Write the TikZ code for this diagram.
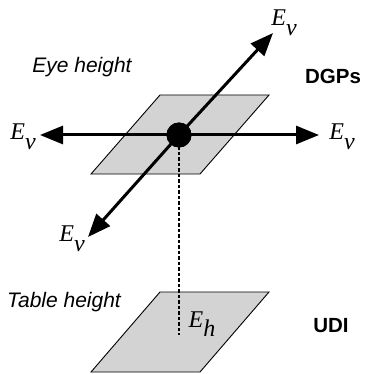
\documentclass[tikz,border=0pt]{standalone}
\usepackage{fontspec}
\setsansfont{Liberation Sans}
\newfontfamily\quantityfont{Liberation Serif}
\usetikzlibrary{arrows.meta, positioning}
\definecolor{planegray}{RGB}{211,211,211}

\newcommand{\quantity}[2]{\textit{#1\raisebox{-0.4em}{#2}}}

\tikzset{
  plane/.style={fill=planegray, draw=black, line width=0.9pt},
  flux/.style={line width=3pt, -{Triangle[length=23pt,width=18pt]}},
  drop/.style={line width=1.1pt, dash pattern=on 3.5pt off 2pt},
  evlabel/.style={font=\quantityfont\fontsize{24}{26}\selectfont, inner sep=0pt},
  heightlabel/.style={font=\sffamily\itshape\fontsize{21}{24}\selectfont, inner sep=0pt},
  metriclabel/.style={font=\sffamily\bfseries\fontsize{20.5}{24}\selectfont, inner sep=0pt},
}

\begin{document}
\begin{tikzpicture}[x=1pt, y=-1pt]
        \useasboundingbox (0,0) rectangle (365,374);
        % Planes
        \draw[plane] (160,95) -- (269,95) -- (200,174) -- (91,174) -- cycle;
        \draw[plane] (160,292) -- (269,292) -- (200,372) -- (91,372) -- cycle;
        % Sensor point and arrow tips
        \node[circle, fill=black, minimum size=25pt, inner sep=0pt] (eye) at (179,135) {};
        \coordinate (west) at (40,135);
        \coordinate (east) at (319,135);
        \coordinate (back) at (273,33);
        \coordinate (front) at (88,237);
        \coordinate (table) at (179,335);
        % Vertical drop to table
        \draw[drop] (eye.center) -- (table);
        % Vertical illuminance arrows
        \foreach \tip in {west,east,back,front}
          \draw[flux] (eye.center) -- (\tip);
        \node[circle, fill=black, minimum size=25pt, inner sep=0pt] at (eye) {};
        % Labels
        \node[evlabel] (ev back) at (284,23) {\quantity{E}{v}};
        \node[evlabel] (ev west) at (23,137) {\quantity{E}{v}};
        \node[evlabel] (ev east) at (342,137) {\quantity{E}{v}};
        \node[evlabel] (ev front) at (72,239) {\quantity{E}{v}};
        \node[evlabel] (eh) at (202,324) {\quantity{E}{h}};
        \node[heightlabel] (eye label) at (82,67) {Eye height};
        \node[heightlabel] (table label) at (64,302) {Table height};
        \node[metriclabel] (dgp label) at (333,76) {DGPs};
        \node[metriclabel] (udi label) at (331,326) {UDI};
      \end{tikzpicture}
\end{document}
